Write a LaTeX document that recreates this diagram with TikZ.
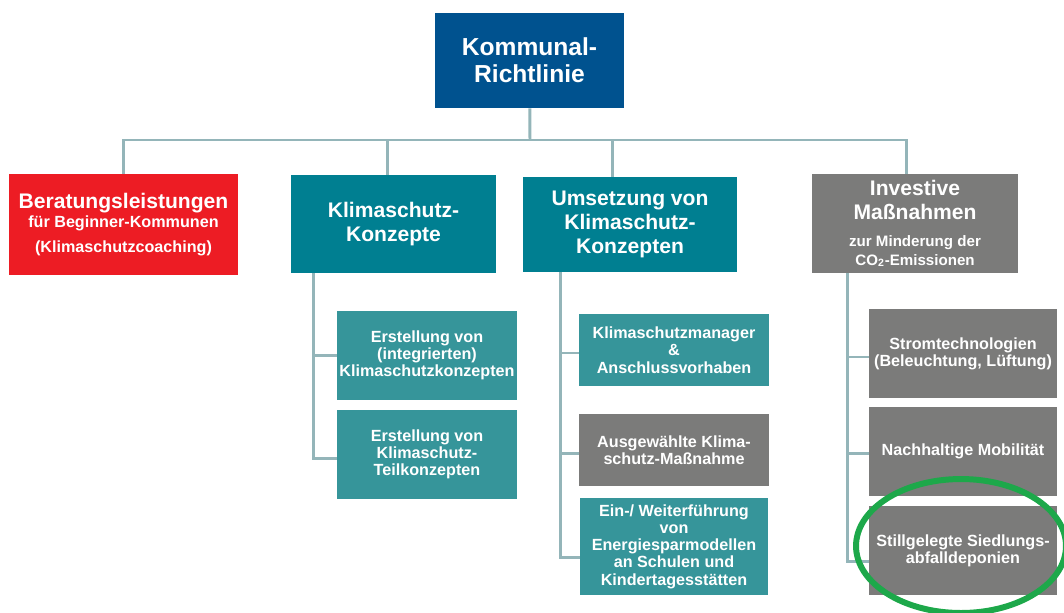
\documentclass[tikz,border=0pt]{standalone}
\usepackage{fontspec}
\setmainfont{Liberation Sans}
\usetikzlibrary{positioning}

\definecolor{kblue}{HTML}{00528F}
\definecolor{kred}{HTML}{ED1C24}
\definecolor{kteal}{HTML}{007F91}
\definecolor{ktealsub}{HTML}{36959A}
\definecolor{kgray}{HTML}{7B7B7A}
\definecolor{kline}{HTML}{94B5B9}
\definecolor{kgreen}{HTML}{1DA84A}

\begin{document}
\begin{tikzpicture}[%
    x=0.02cm, y=-0.02cm,
    box/.style={text=white, align=center, inner sep=1pt},
    boxsize/.style 2 args={minimum width=#1*0.02cm, minimum height=#2*0.02cm},
    topbox/.style={box, fill=kblue, font=\fontsize{14}{15.5}\selectfont\bfseries},
    head/.style={box, fill=kteal, font=\fontsize{12}{13.6}\selectfont\bfseries},
    sub/.style={box, fill=ktealsub, font=\fontsize{9.2}{9.8}\selectfont\bfseries},
    link/.style={draw=kline, line width=1.7pt},
    ring/.style={draw=kgreen, line width=3.4pt},
  ]
    \clip (0,0) rectangle (1064,612);

    % top and first level
    \node (top) [topbox, boxsize={189}{95}]            at (529.5,60.5) {Kommunal-\\Richtlinie};
    \node (red) [head, fill=kred, boxsize={229}{101}]  at (123.5,224.5)
      {Beratungsleistungen\\[-2.8pt]
       {\fontsize{9.2}{11}\selectfont für Beginner-Kommunen}\\[0.6pt]
       {\fontsize{9.2}{11}\selectfont (Klimaschutzcoaching)}};
    \node (kk)  [head, boxsize={205}{98}]              at (393.5,224) {Klimaschutz-\\Konzepte};
    \node (ums) [head, boxsize={214}{95}]              at (630,224.5) {Umsetzung von\\Klimaschutz-\\Konzepten};
    \node (inv) [head, fill=kgray, boxsize={206}{99}]  at (915,223.5)
      {Investive\\Maßnahmen\\[1.7pt]
       {\fontsize{8.6}{10.6}\selectfont zur Minderung der}\\[-2.8pt]
       {\fontsize{8.6}{10.6}\selectfont CO\textsubscript{2}-Emissionen}};

    % second level
    \node (kk1)  [sub, boxsize={180}{89}]              at (427,355.5) {Erstellung von\\(integrierten)\\Klimaschutzkonzepten};
    \node (kk2)  [sub, boxsize={180}{89}]              at (427,454.5) {Erstellung von\\Klimaschutz-\\Teilkonzepten};
    \node (ums1) [sub, boxsize={190}{72}]              at (674,350) {Klimaschutzmanager\\\&\\Anschlussvorhaben};
    \node (ums2) [sub, fill=kgray, boxsize={190}{72}]  at (674,450) {Ausgewählte Klima-\\schutz-Maßnahme};
    \node (ums3) [sub, boxsize={188}{97}]              at (674,546.5) {Ein-/ Weiterführung\\von\\Energiesparmodellen\\an Schulen und\\Kindertagesstätten};
    \node (inv1) [sub, fill=kgray, boxsize={188}{89}]  at (963,353.5) {Stromtechnologien\\(Beleuchtung, Lüftung)};
    \node (inv2) [sub, fill=kgray, boxsize={188}{89}]  at (963,451.5) {Nachhaltige Mobilität};
    \node (inv3) [sub, fill=kgray, boxsize={188}{89}]  at (963,550.5) {Stillgelegte Siedlungs-\\abfalldeponien};

    % connectors
    \coordinate (hub) at (530,140);
    \draw[link] (top) -- (hub);
    \draw[link] (red.north) |- (hub);
    \draw[link] ([xshift=-0.13cm]kk.north) |- (hub);
    \draw[link] ([xshift=-0.36cm]ums.north) |- (hub);
    \draw[link] ([xshift=-0.18cm]inv.north) |- (hub);

    \draw[link] ([xshift=0.46cm]kk.south west) |- (kk1.west);
    \draw[link] ([xshift=0.46cm]kk.south west) |- ([yshift=-0.07cm]kk2.west);
    \draw[link] ([xshift=0.76cm]ums.south west) |- ([yshift=-0.06cm]ums1.west);
    \draw[link] ([xshift=0.76cm]ums.south west) |- ([yshift=-0.06cm]ums2.west);
    \draw[link] ([xshift=0.76cm]ums.south west) |- ([yshift=-0.21cm]ums3.west);
    \draw[link] ([xshift=0.72cm]inv.south west) |- ([yshift=-0.07cm]inv1.west);
    \draw[link] ([xshift=0.72cm]inv.south west) |- ([yshift=-0.03cm]inv2.west);
    \draw[link] ([xshift=0.72cm]inv.south west) |- ([yshift=-0.21cm]inv3.west);

    % highlight
    \draw[ring] (inv3.center) ++(-2,-4.5) ellipse [x radius=2.1cm, y radius=1.34cm];
  \end{tikzpicture}
\end{document}
